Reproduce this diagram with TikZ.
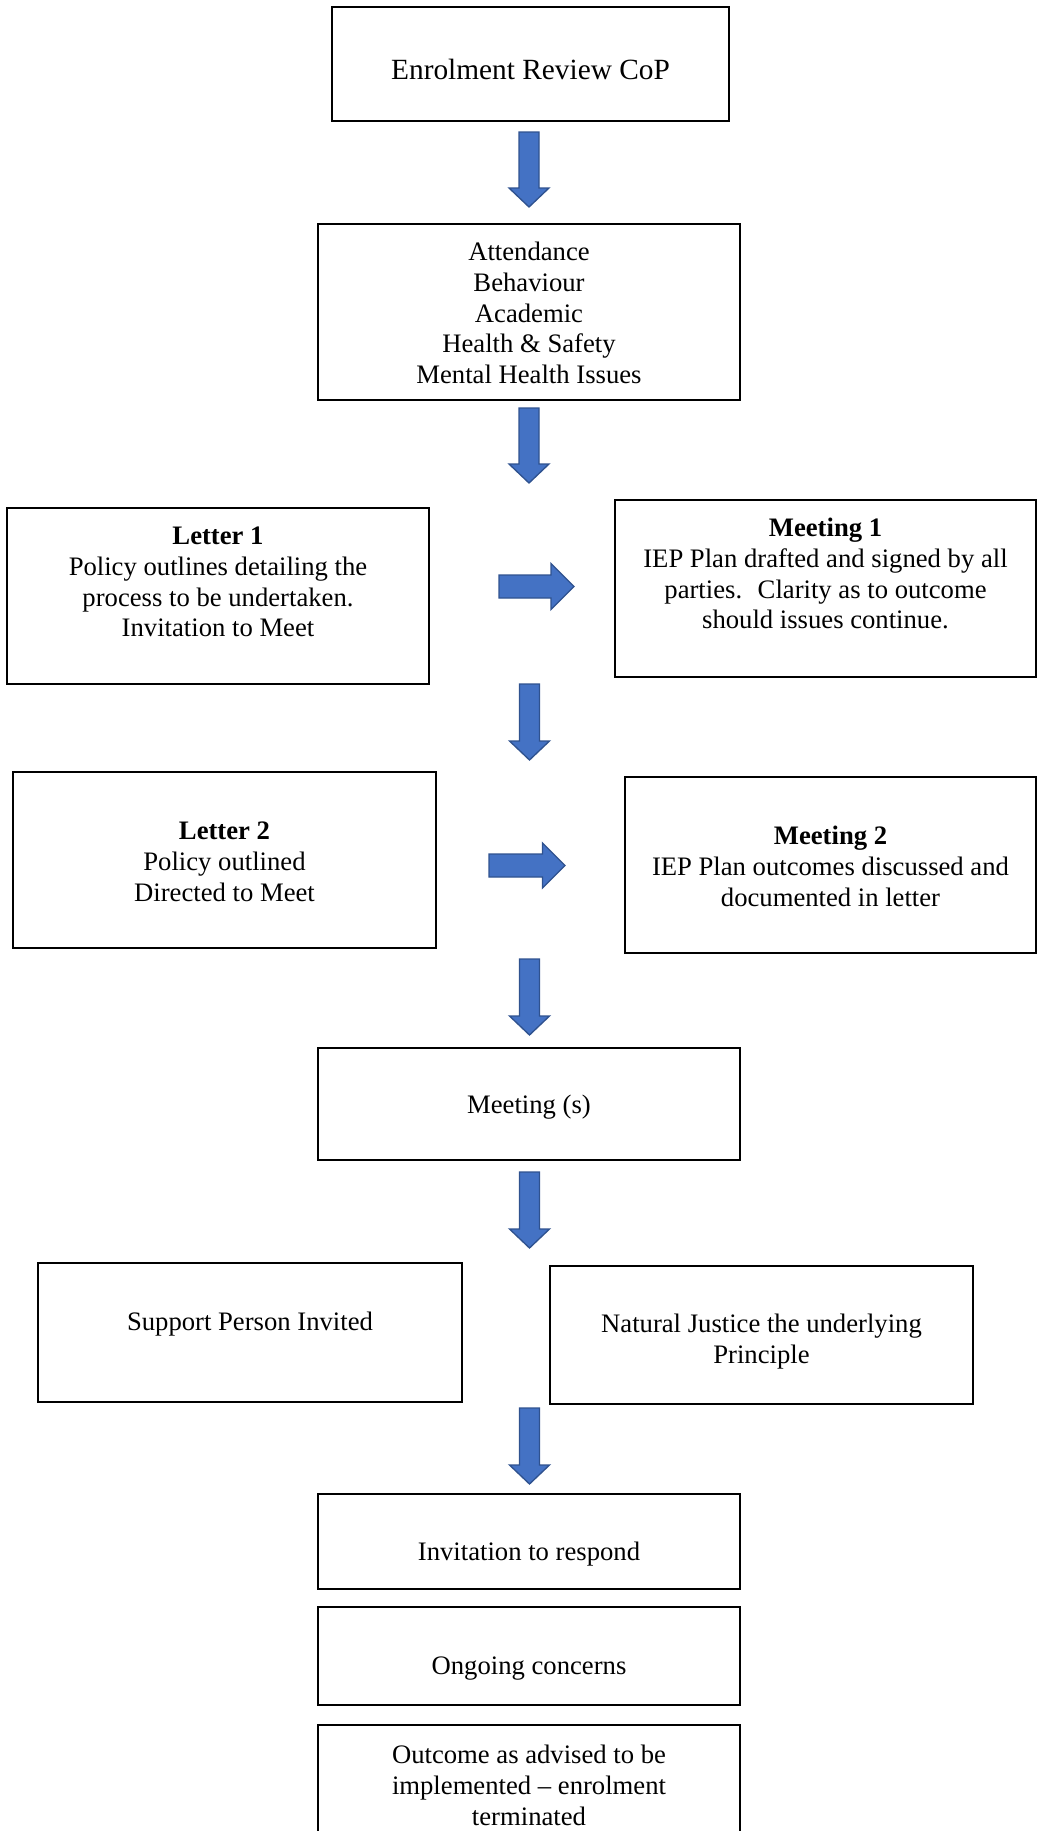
\documentclass[tikz,border=0pt]{standalone}
\usepackage{fontspec}
\setmainfont{Liberation Serif}
\usetikzlibrary{calc}
\definecolor{arrfill}{HTML}{4472C4}
\definecolor{arrline}{HTML}{2F528F}
\tikzset{
  box/.style 2 args={draw, line width=1.1pt, inner sep=0pt, minimum width=#1*0.75pt, minimum height=#2*0.75pt},
  txt/.style={anchor=north, inner sep=0pt, align=center, font=\fontsize{20}{23}\selectfont},
  blockarrow/.style={fill=arrfill, draw=arrline, line width=1pt, line join=miter}
}
% cx, top, tip
\newcommand\DArrow[3]{\draw[blockarrow] (#1-10,#2) -- (#1+10,#2) -- (#1+10,#3-19) -- (#1+20,#3-19) -- (#1,#3) -- (#1-20,#3-19) -- (#1-10,#3-19) -- cycle;}
% left, right, cy, half shaft, half head
\newcommand\RArrow[5]{\draw[blockarrow] (#1,#3-#4) -- (#2-#5,#3-#4) -- (#2-#5,#3-#5) -- (#2,#3) -- (#2-#5,#3+#5) -- (#2-#5,#3+#4) -- (#1,#3+#4) -- cycle;}
\begin{document}
\begin{tikzpicture}[x=0.75pt,y=-0.75pt]
\useasboundingbox (0,0) rectangle (1037,1831);
\clip (0,0) rectangle (1037,1831);
% boxes
\node[box={397}{114}] (b1) at (530.5,64) {};
\node[box={422}{176}] (b2) at (529,312) {};
\node[box={422}{176}] (l1) at (218,596) {};
\node[box={421}{177}] (m1) at (825.5,588.5) {};
\node[box={423}{176}] (l2) at (224.5,860) {};
\node[box={411}{176}] (m2) at (830.5,865) {};
\node[box={422}{112}] (ms) at (529,1104) {};
\node[box={424}{139}] (sp) at (250,1332.5) {};
\node[box={423}{138}] (nj) at (761.5,1335) {};
\node[box={422}{95}] (ir) at (529,1541.5) {};
\node[box={422}{98}] (oc) at (529,1656) {};
\node[box={422}{135}] (ot) at (529,1792.5) {};
% texts
\node[txt, font=\fontsize{22}{25.3}\selectfont] (t1) at (530.5,55.5) {\strut Enrolment Review CoP};
\node[txt] (t2) at (529,253-14) {\strut Attendance\\Behaviour\\Academic\\Health \& Safety\\Mental Health Issues};
\node[txt] (tl1) at (218,537-14) {\strut\bfseries Letter 1\\Policy outlines detailing the\\process to be undertaken.\\Invitation to Meet};
\node[txt] (tm1) at (825.5,529-14) {\strut\bfseries Meeting 1\\IEP Plan drafted and signed by all\\parties.~ Clarity as to outcome\\should issues continue.};
\node[txt] (tl2) at (224.5,832-14) {\strut\bfseries Letter 2\\Policy outlined\\Directed to Meet};
\node[txt] (tm2) at (830.5,837-14) {\strut\bfseries Meeting 2\\IEP Plan outcomes discussed and\\documented in letter};
\node[txt] (tms) at (529,1106-14) {\strut Meeting (s)};
\node[txt] (tsp) at (250,1323-14) {\strut Support Person Invited};
\node[txt] (tnj) at (761.5,1325-14) {\strut Natural Justice the underlying\\Principle};
\node[txt] (tir) at (529,1553-14) {\strut Invitation to respond};
\node[txt] (toc) at (529,1667-14) {\strut Ongoing concerns};
\node[txt] (tot) at (529,1756-14) {\strut Outcome as advised to be\\implemented \textendash{} enrolment\\terminated};
% block arrows
\DArrow{529}{132}{207}
\DArrow{529}{408}{483}
\RArrow{499}{574}{586.5}{11.5}{23}
\DArrow{529.5}{684}{760}
\RArrow{489}{565}{865.5}{11.5}{22.5}
\DArrow{529.5}{959}{1035}
\DArrow{529.5}{1172}{1248}
\DArrow{529.5}{1408}{1484}
\end{tikzpicture}
\end{document}
